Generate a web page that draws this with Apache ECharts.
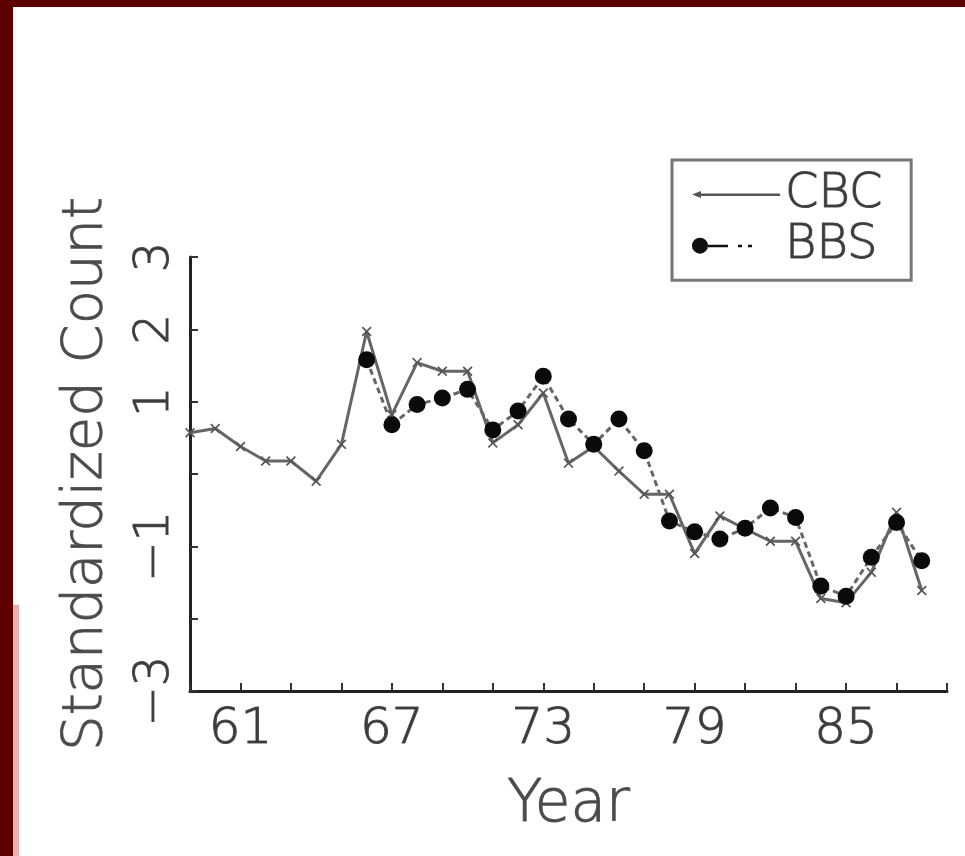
<!DOCTYPE html>
<html>
<head>
<meta charset="utf-8">
<script src="https://cdn.jsdelivr.net/npm/echarts@6/dist/echarts.min.js"></script>
<style>
html,body{margin:0;padding:0;background:#5c0000;}
#c{width:965px;height:856px;}
</style>
</head>
<body>
<div id="c"></div>
<script>
// ---- data ----
const years = [59,60,61,62,63,64,65,66,67,68,69,70,71,72,73,74,75,76,77,78,79,80,81,82,83,84,85,86,87,88];
const cbcValues = [0.57,0.63,0.38,0.18,0.18,-0.10,0.41,1.97,0.82,1.54,1.42,1.42,0.43,0.68,1.12,0.15,0.38,0.04,-0.28,-0.28,-1.10,-0.58,-0.76,-0.93,-0.93,-1.72,-1.78,-1.36,-0.53,-1.61];
const bbsYears = [66,67,68,69,70,71,72,73,74,75,76,77,78,79,80,81,82,83,84,85,86,87,88];
const bbsValues = [1.58,0.68,0.96,1.05,1.17,0.61,0.87,1.35,0.76,0.41,0.76,0.32,-0.65,-0.80,-0.90,-0.75,-0.47,-0.60,-1.55,-1.69,-1.15,-0.67,-1.20];
const xTickLabels = [61,67,73,79,85];
const yTickLabels = [3,2,1,-1,-3];
const seriesNames = ['CBC','BBS'];

const FONT = 'DejaVu Sans';
const W = 200;
const TXT = {fontFamily:FONT, fontWeight:W, color:'#3c3c3c', textBorderColor:'#5a5a5a', textBorderWidth:1.1};
const chart = echarts.init(document.getElementById('c'), null, {renderer:'canvas'});

const cbcData = years.map((y,i)=>[y, cbcValues[i]]);
const bbsData = bbsYears.map((y,i)=>[y, bbsValues[i]]);

const xMark = 'path://M0,1.2 L1.2,0 L5,3.8 L8.8,0 L10,1.2 L6.2,5 L10,8.8 L8.8,10 L5,6.2 L1.2,10 L0,8.8 L3.8,5 Z';
const cbcIcon = 'path://M0,0 h0.01 v0.01 h-0.01 Z M0,8 L9,4.5 L9,7 L88,7 L88,9.5 L9,9.5 L9,11.5 Z M87.99,15.99 h0.01 v0.01 h-0.01 Z';
const bbsIcon = 'path://M0,8 A8,8 0 1 0 16,8 A8,8 0 1 0 0,8 Z M16,7 L36,7 L36,9.5 L16,9.5 Z M46,7 L50,7 L50,9.5 L46,9.5 Z M56,7 L60,7 L60,9.5 L56,9.5 Z M87.99,15.99 h0.01 v0.01 h-0.01 Z';

const option = {
  backgroundColor: '#5c0000',
  animation: false,
  graphic: [
    {type:'rect', z:-100, silent:true, shape:{x:13, y:7, width:952, height:849}, style:{fill:'#ffffff'}},
    {type:'rect', z:-99, silent:true, shape:{x:13, y:605, width:6, height:251}, style:{fill:'#eab0b0'}}
  ],
  grid: {left:190, top:257, right:18, bottom:165, containLabel:false},
  legend: {
    orient:'vertical',
    left:672, top:160,
    borderColor:'#777', borderWidth:3,
    padding:[10,28,10,20],
    itemGap:2,
    itemWidth:88, itemHeight:16,
    textStyle:Object.assign({fontSize:48, lineHeight:44}, TXT),
    data:[
      {name:seriesNames[0], icon:cbcIcon, itemStyle:{color:'#555'}},
      {name:seriesNames[1], icon:bbsIcon, itemStyle:{color:'#111'}}
    ]
  },
  xAxis: {
    type:'value', min:59, max:89, interval:2,
    name:'Year', nameLocation:'middle', nameGap:86,
    nameTextStyle:Object.assign({fontSize:58}, TXT, {color:'#4a4a4a', textBorderColor:'#666'}),
    axisLine:{show:true, onZero:false, lineStyle:{color:'#222', width:3}},
    axisTick:{show:true, inside:true, length:8, lineStyle:{color:'#333', width:2}},
    axisLabel:Object.assign({
      fontSize:50, margin:14,
      formatter:function(v){ return xTickLabels.indexOf(v) >= 0 ? String(v) : ''; }
    }, TXT),
    splitLine:{show:false}
  },
  yAxis: {
    type:'value', min:-3, max:3, interval:1,
    name:'Standardized Count', nameLocation:'middle', nameGap:76,
    nameTextStyle:Object.assign({fontSize:56}, TXT, {color:'#4a4a4a', textBorderColor:'#666'}),
    axisLine:{show:true, onZero:false, lineStyle:{color:'#222', width:3}},
    axisTick:{show:true, inside:true, length:8, lineStyle:{color:'#333', width:2}},
    axisLabel:Object.assign({
      rotate:90, fontSize:48, margin:10,
      formatter:function(v){ return yTickLabels.indexOf(v) >= 0 ? String(v).replace('-', '\u2212') : ''; }
    }, TXT),
    splitLine:{show:false}
  },
  series: [
    {
      name:seriesNames[0], type:'line', data:cbcData,
      symbol:xMark, symbolSize:10, showAllSymbol:true,
      itemStyle:{color:'#555'},
      lineStyle:{color:'#666', width:3},
      z:2
    },
    {
      name:seriesNames[1], type:'line', data:bbsData,
      symbol:'circle', symbolSize:17, showAllSymbol:true,
      itemStyle:{color:'#0a0a0a'},
      lineStyle:{color:'#666', width:3, type:[6,4]},
      z:3
    }
  ]
};
chart.setOption(option);
</script>
</body>
</html>
